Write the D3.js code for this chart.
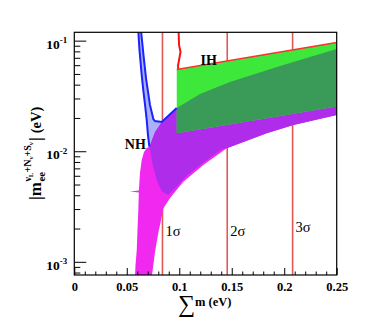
<!DOCTYPE html>
<html><head><meta charset="utf-8">
<script src="https://cdn.jsdelivr.net/npm/d3@7"></script>
<style>body{margin:0;background:#fff}svg{display:block}</style>
</head><body>
<svg id="c" width="374" height="325"></svg>
<script>
// ---- data ----
const xTickVals = [0, 0.05, 0.1, 0.15, 0.2, 0.25];
const xTickLabels = ["0", "0.05", "0.1", "0.15", "0.2", "0.25"];
const yTickVals = [0.001, 0.01, 0.1];
const yTickExps = ["-3", "-2", "-1"];
const sigmaX = [0.084, 0.1457, 0.208];
const sigmaLabels = ["1σ", "2σ", "3σ"];
// NH allowed region (full, pink)
const nhTop = [[0.0715,0.01099],[0.0769,0.01493],[0.0833,0.01836],[0.0976,0.0246],[0.1198,0.0330],[0.1483,0.0423],[0.1960,0.0590],[0.25,0.0841]];
const nhLow = [[0.25,0.0213],[0.2087,0.01726],[0.1833,0.01452],[0.1452,0.01062],[0.1229,0.00750],[0.1039,0.00530],[0.0912,0.00377],[0.0848,0.00304],[0.0823,0.00230],[0.0800,0.00182],[0.0769,0.001225],[0.0737,0.00072]];
const nhLeft = [[0.0578,0.00072],[0.0583,0.000933],[0.0595,0.001277],[0.0602,0.001937],[0.0610,0.002938],[0.0615,0.004227],[0.0531,0.004317],[0.0615,0.004408],[0.0626,0.00635],[0.0642,0.00832],[0.0664,0.00984],[0.0690,0.01069]];
// NH core region (purple)
const nhCoreLow = [[0.25,0.0213],[0.2087,0.01726],[0.1833,0.01452],[0.1452,0.01062],[0.1407,0.01047],[0.1293,0.00877],[0.1169,0.00712],[0.1064,0.00590],[0.0969,0.00469],[0.0893,0.00402],[0.0836,0.00432],[0.0788,0.00537],[0.0750,0.00734],[0.0726,0.00984]];
// NH blue boundary
const nhBlueLeft = [[0.0608,0.13],[0.0621,0.0824],[0.0642,0.0490],[0.0657,0.0358],[0.0674,0.0262],[0.0690,0.0191],[0.0702,0.0140],[0.0715,0.01099]];
const nhBlueRight = [[0.0633,0.13],[0.0659,0.0743],[0.0683,0.0459],[0.0721,0.0262],[0.0753,0.01954],[0.0769,0.01875],[0.0833,0.01836],[0.0976,0.0246]];
// IH region (green)
const ihTop = [[0.0976,0.0549],[0.175,0.0730],[0.25,0.0963]];
const ihLow = [[0.25,0.0254],[0.175,0.01923],[0.0976,0.01452]];
const ihEdge = [[0.0993,0.13],[0.0998,0.0914],[0.1012,0.0790],[0.0998,0.0668],[0.0988,0.0591],[0.0991,0.0549]];

// ---- layout ----
const L = 74.3, R = 336.7, T = 32.3, B = 275;
const svg = d3.select("#c");
svg.append("rect").attr("width",374).attr("height",325).attr("fill","#fff");
const x = d3.scaleLinear().domain([0,0.25]).range([L,R]);
const y = d3.scaleLog().domain([7.6e-4,0.119]).range([B,T]);
const FONT = "'Liberation Serif','Times New Roman',serif";

svg.append("defs").append("clipPath").attr("id","plot")
  .append("rect").attr("x",L).attr("y",T).attr("width",R-L).attr("height",B-T);
svg.select("defs").append("clipPath").attr("id","ihclip")
  .append("path").attr("d", d3.line().x(d=>x(d[0])).y(d=>y(d[1]))(ihTop.concat(ihLow)) + "Z");

const line = d3.line().x(d=>x(d[0])).y(d=>y(d[1]));
const g = svg.append("g").attr("clip-path","url(#plot)");

// sigma lines (behind)
g.selectAll("line.sig").data(sigmaX).join("line")
  .attr("x1",d=>x(d)).attr("x2",d=>x(d)).attr("y1",T).attr("y2",B)
  .attr("stroke","#e05a55").attr("stroke-width",1.6);

// NH blue hatched sliver
const blueFill = nhBlueLeft.concat(nhTop.slice(1,3), nhBlueRight.slice(0,6).reverse());
g.append("path").attr("d", line(blueFill)+"Z").attr("fill","#aab0fa");

// pink
const pink = nhTop.concat(nhLow, nhLeft);
g.append("path").attr("d", line(pink)+"Z").attr("fill","#f028f0");
// purple
const purple = nhTop.concat(nhCoreLow);
g.append("path").attr("d", line(purple)+"Z").attr("fill","#ae2cea");
// green
g.append("path").attr("d", line(ihTop.concat(ihLow))+"Z").attr("fill","#3ee83a");
// dark green overlap
g.append("path").attr("d", line(purple)+"Z").attr("fill","#3a9a58").attr("clip-path","url(#ihclip)");

// blue lines
g.append("path").attr("d", line(nhBlueLeft)).attr("fill","none").attr("stroke","#1a22ff").attr("stroke-width",2);
g.append("path").attr("d", line(nhBlueRight)).attr("fill","none").attr("stroke","#1a22ff").attr("stroke-width",2);
// red IH lines
g.append("path").attr("d", line(ihEdge)).attr("fill","none").attr("stroke","#ff1010").attr("stroke-width",2);
g.append("path").attr("d", line(ihTop)).attr("fill","none").attr("stroke","#ff3030").attr("stroke-width",1.5);

// ---- axes ----
const xMinor = x.ticks(25).filter(v => !xTickVals.some(t => Math.abs(t-v) < 1e-9));
svg.append("g").attr("transform",`translate(0,${B})`)
  .call(d3.axisBottom(x).tickValues(xMinor).tickSize(-3.5).tickFormat(""))
  .call(s=>s.select(".domain").remove());
const xa = svg.append("g").attr("transform",`translate(0,${B})`)
  .call(d3.axisBottom(x).tickValues(xTickVals).tickSize(-7).tickFormat((d,i)=>xTickLabels[i]));
xa.select(".domain").remove();
xa.selectAll("text").attr("y",15.7).attr("dy",0)
  .attr("font-family",FONT).attr("font-weight","bold").attr("font-size",12.5).attr("fill","#000");

const yMinor = y.ticks().filter(v => !yTickVals.some(t => Math.abs(t-v)/t < 1e-6));
svg.append("g").attr("transform",`translate(${L},0)`)
  .call(d3.axisLeft(y).tickValues(yMinor).tickSize(-6).tickFormat(""))
  .call(s=>s.select(".domain").remove());
const ya = svg.append("g").attr("transform",`translate(${L},0)`)
  .call(d3.axisLeft(y).tickValues(yTickVals).tickSize(-12).tickFormat(""));
ya.select(".domain").remove();
ya.selectAll(".tick").each(function(d,i){
  const t = d3.select(this).append("text").attr("x",-7).attr("y",7.6)
    .attr("text-anchor","end").attr("font-family",FONT).attr("font-weight","bold").attr("fill","#000");
  t.append("tspan").attr("font-size",13.5).text("10");
  t.append("tspan").attr("font-size",9).attr("dy",-5.5).text(yTickExps[i]);
});
ya.selectAll(".tick line").attr("stroke","#000");

// frame
svg.append("rect").attr("x",L).attr("y",T).attr("width",R-L).attr("height",B-T)
  .attr("fill","none").attr("stroke","#000").attr("stroke-width",1.2);

// ---- labels ----
svg.selectAll("text.sig").data(sigmaX).join("text").attr("class","sig")
  .attr("x",d=>x(d)+3).attr("y",(d,i)=>i===2?232:236)
  .attr("font-family",FONT).attr("font-size",14.5).text((d,i)=>sigmaLabels[i]);
svg.append("text").attr("x",200.5).attr("y",64.5).attr("font-family",FONT)
  .attr("font-weight","bold").attr("font-size",14).text("IH");
svg.append("text").attr("x",124.8).attr("y",149).attr("font-family",FONT)
  .attr("font-weight","bold").attr("font-size",14).text("NH");

// x title
svg.append("text").attr("x",178).attr("y",312).attr("font-family",FONT)
  .attr("font-size",24).text("∑");
svg.append("text").attr("x",195).attr("y",305.5).attr("font-family",FONT)
  .attr("font-weight","bold").attr("font-size",12.5).text("m (eV)");

// y title (rotated)
const yt = svg.append("g").attr("transform","translate(41,200) rotate(-90)")
  .attr("font-family",FONT).attr("font-weight","bold").attr("fill","#000");
const t1 = yt.append("text").attr("x",0).attr("y",0).attr("font-size",17).text("|m");
const w1 = t1.node().getComputedTextLength();
const t2 = yt.append("text").attr("x",w1+0.5).attr("y",3.5).attr("font-size",11).text("ee");
const w2 = t2.node().getComputedTextLength();
const t3 = yt.append("text").attr("x",w1+0.5).attr("y",-10).attr("font-size",10);
t3.append("tspan").text("ν");
t3.append("tspan").attr("font-size",7).attr("dy",2).text("L");
t3.append("tspan").attr("dy",-2).text("+N");
t3.append("tspan").attr("font-size",7).attr("dy",2).text("ν");
t3.append("tspan").attr("dy",-2).text("+S");
t3.append("tspan").attr("font-size",7).attr("dy",2).text("ν");
const w3 = t3.node().getComputedTextLength();
const t4 = yt.append("text").attr("x",w1+0.5+Math.max(w2,w3)+1).attr("y",0).attr("font-size",17).text("|");
const w4 = t4.node().getComputedTextLength();
yt.append("text").attr("x",w1+0.5+Math.max(w2,w3)+1+w4+4).attr("y",0).attr("font-size",14.5).text("(eV)");
</script>
</body></html>
